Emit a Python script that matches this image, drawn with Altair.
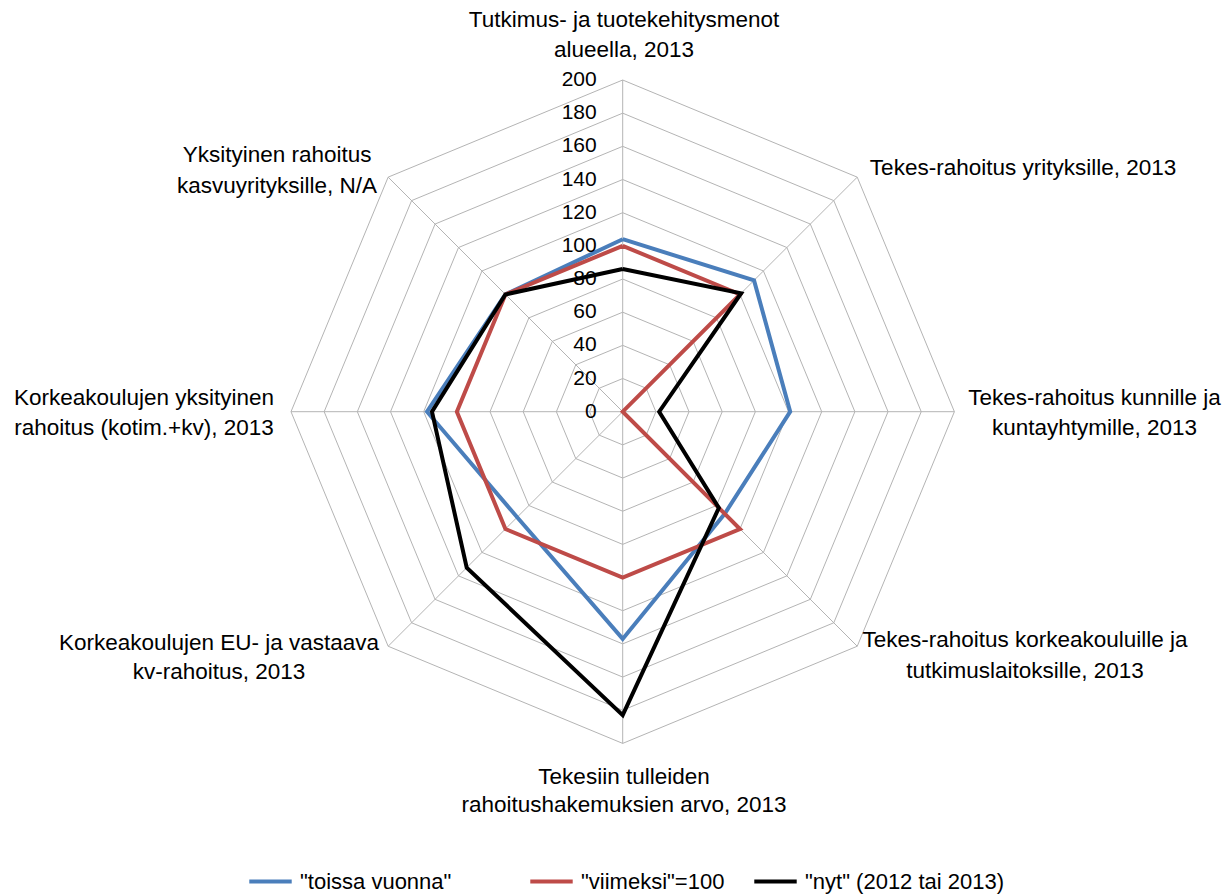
import altair as alt
import pandas as pd

# ---- data ----
categories = [
    ["Tutkimus- ja tuotekehitysmenot", "alueella, 2013"],
    ["Tekes-rahoitus yrityksille, 2013"],
    ["Tekes-rahoitus kunnille ja", "kuntayhtymille, 2013"],
    ["Tekes-rahoitus korkeakouluille ja", "tutkimuslaitoksille, 2013"],
    ["Tekesiin tulleiden", "rahoitushakemuksien arvo, 2013"],
    ["Korkeakoulujen EU- ja vastaava", "kv-rahoitus, 2013"],
    ["Korkeakoulujen yksityinen", "rahoitus (kotim.+kv), 2013"],
    ["Yksityinen rahoitus", "kasvuyrityksille, N/A"],
]
series_names = ['"toissa vuonna"', '"viimeksi"=100', '"nyt" (2012 tai 2013)']
toissa_vuonna = [104, 112, 101, 87, 137, 90, 118, 100]
viimeksi = [100, 100, 0, 100, 100, 100, 100, 100]
nyt = [86, 101, 22, 82, 183, 133, 115, 100]
ticks = [0, 20, 40, 60, 80, 100, 120, 140, 160, 180, 200]

# ---- styles / layout ----
colors = ["#4A7EBB", "#BE4B48", "#000000"]
legend_x = [239, 520, 744]
GRID = "#B4B4B4"
FONT = "Liberation Sans"
W, H = 1214, 886
PX = 331.7 / 200.0          # pixels per unit
CX, CY = 614.7, 403.7       # centre inside plot area
XDOM = [-CX / PX, (W - CX) / PX]
YDOM = [-(H - CY) / PX, CY / PX]
N = len(categories)

# label anchors (units from centre) for each line of each category label
label_pos = [
    (0.8, [236.0, 218.0]),
    (241.4, [146.8]),
    (284.5, [8.3, -9.8]),
    (242.6, [-137.7, -156.3]),
    (0.8, [-220.3, -237.2]),
    (-243.4, [-139.5, -157.0]),
    (-288.6, [8.3, -9.8]),
    (-208.4, [154.8, 136.1]),
]

xs = alt.Scale(domain=XDOM, nice=False, zero=False)
ys = alt.Scale(domain=YDOM, nice=False, zero=False)

# series table
rows = []
for s, vals in zip(series_names, [toissa_vuonna, viimeksi, nyt]):
    for k in range(N + 1):
        i = k % N
        rows.append({"series": s, "idx": k, "axis": i, "value": vals[i]})
series_df = pd.DataFrame(rows)

# grid rings
ring_rows = []
for r in ticks[1:]:
    for k in range(N + 1):
        ring_rows.append({"ring": r, "idx": k, "axis": k % N, "value": r})
ring_df = pd.DataFrame(ring_rows)

spoke_df = pd.DataFrame({"axis": list(range(N)), "value": [ticks[-1]] * N})
tick_df = pd.DataFrame({"t": ticks, "label": [str(t) for t in ticks]})

lab_rows = []
for i, (cx, lys) in enumerate(label_pos):
    for line, ly in zip(categories[i], lys):
        lab_rows.append({"text": line, "lx": cx, "ly": ly})
lab_df = pd.DataFrame(lab_rows)

polar = dict(
    px="datum.value * sin(datum.axis * PI / 4)",
    py="datum.value * cos(datum.axis * PI / 4)",
)

rings = alt.Chart(ring_df).transform_calculate(**polar).mark_line(
    color=GRID, strokeWidth=1
).encode(
    x=alt.X("px:Q", scale=xs, axis=None),
    y=alt.Y("py:Q", scale=ys, axis=None),
    detail="ring:N",
    order="idx:Q",
)

spokes = alt.Chart(spoke_df).transform_calculate(**polar).mark_rule(
    color=GRID, strokeWidth=1
).encode(
    x=alt.X("zx:Q", scale=xs, axis=None),
    y=alt.Y("zy:Q", scale=ys, axis=None),
    x2="px:Q",
    y2="py:Q",
).transform_calculate(zx="0", zy="0")

series_layers = []
for s, c, lx in zip(series_names, colors, legend_x):
    legend = alt.Legend(
        title=None,
        orient="none",
        direction="horizontal",
        legendX=lx,
        legendY=850,
        symbolType="stroke",
        symbolSize=1800,
        symbolStrokeWidth=4,
        labelFont=FONT,
        labelFontSize=22,
        labelColor="#000000",
        labelOffset=6,
        labelLimit=400,
    )
    series_layers.append(
        alt.Chart(series_df).transform_filter(alt.datum.series == s)
        .transform_calculate(**polar)
        .mark_line(strokeWidth=4)
        .encode(
            x=alt.X("px:Q", scale=xs, axis=None),
            y=alt.Y("py:Q", scale=ys, axis=None),
            color=alt.Color("series:N", scale=alt.Scale(domain=[s], range=[c]), legend=legend),
            order="idx:Q",
        )
    )

tick_labels = alt.Chart(tick_df).mark_text(
    align="right", baseline="middle", dx=-26, font=FONT, fontSize=21, color="#000000"
).encode(
    x=alt.X("zx:Q", scale=xs, axis=None),
    y=alt.Y("t:Q", scale=ys, axis=None),
    text="label:N",
).transform_calculate(zx="0")

cat_labels = alt.Chart(lab_df).mark_text(
    align="center", baseline="middle", font=FONT, fontSize=22.5, color="#000000"
).encode(
    x=alt.X("lx:Q", scale=xs, axis=None),
    y=alt.Y("ly:Q", scale=ys, axis=None),
    text="text:N",
)

chart = alt.layer(rings, spokes, *series_layers, tick_labels, cat_labels).resolve_scale(
    color="independent"
).properties(
    width=W, height=H, autosize=alt.AutoSizeParams(type="none"), padding=0,
    background="white",
).configure_view(stroke=None)

chart.save("out.html", embed_options={"renderer": "svg", "actions": False})
